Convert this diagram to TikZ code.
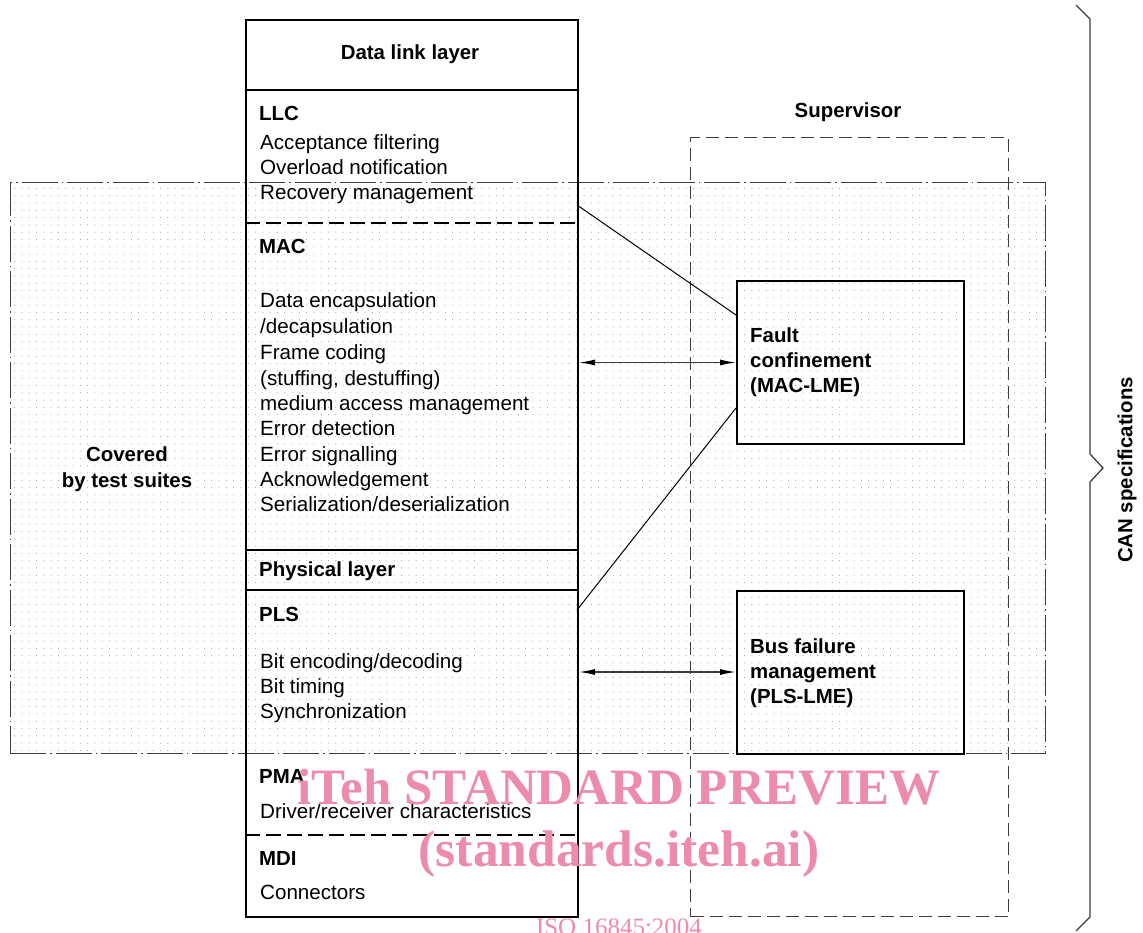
\documentclass[tikz,border=0pt]{standalone}
\usepackage{fontspec}
\setmainfont{Liberation Sans}
\newfontfamily\wmfont{Liberation Serif}
\usetikzlibrary{arrows.meta,patterns.meta}
\definecolor{wmpink}{RGB}{236,140,170}
\definecolor{linegray}{RGB}{60,60,60}
\begin{document}
\begin{tikzpicture}[x=1pt,y=-1pt,
  txt/.style={font=\fontsize{20.6}{24}\selectfont, anchor=base west, inner sep=0pt},
  btxt/.style={font=\fontsize{20.4}{24}\selectfont\bfseries, anchor=base west, inner sep=0pt},
  frame/.style={draw, line width=2pt, inner sep=0pt, anchor=north west},
  supbox/.style={draw=linegray, line width=1.3pt, dash pattern=on 13pt off 6pt, inner sep=0pt, anchor=north west},
  covbox/.style={draw=linegray, line width=0.9pt, dash pattern=on 36pt off 4pt on 1.5pt off 4pt, inner sep=0pt, anchor=north west,
     pattern={Dots[distance=7.3pt,radius=0.5pt]}, pattern color=gray!85},
  divider/.style={line width=2pt},
  ddivider/.style={line width=1.6pt, dash pattern=on 15pt off 6pt},
  conn/.style={line width=1pt},
  biarrow/.style={line width=1.3pt, draw=linegray, {Latex[length=16pt,width=6pt,color=black]}-{Latex[length=16pt,width=6pt,color=black]}},
  wm/.style={text=wmpink, inner sep=0pt, anchor=base}
]
\useasboundingbox (0,0) rectangle (1143,933);

% covered-by-test-suites region
\node[covbox, minimum width=1035pt, minimum height=571pt] (cov) at (10,182) {};

% supervisor region
\node[supbox, minimum width=318pt, minimum height=779pt] (sup) at (690,137) {};

% main column
\node[frame, minimum width=332pt, minimum height=897pt] (col) at (245,19) {};
\draw[divider] (245,90) -- (577,90);
\draw[ddivider] (245,223) -- (577,223);
\draw[divider] (245,550) -- (577,550);
\draw[divider] (245,590) -- (577,590);
\draw[ddivider] (245,835) -- (577,835);

% management boxes
\node[frame, minimum width=227pt, minimum height=163pt] (fault) at (736,280) {};
\node[frame, minimum width=227pt, minimum height=163pt] (bus) at (736,590) {};

% column texts
\node[btxt, anchor=base] (dll) at (410,60) {Data link layer};
\node[btxt] (llc) at (259,121) {LLC};
\node[txt] (t1) at (260,150) {Acceptance filtering};
\node[txt] (t2) at (260,175) {Overload notification};
\node[txt] (t3) at (260,200) {Recovery management};
\node[btxt] (mac) at (259,254) {MAC};
\node[txt] (t4) at (260,308) {Data encapsulation};
\node[txt] (t5) at (260,334) {/decapsulation};
\node[txt] (t6) at (260,359) {Frame coding};
\node[txt] (t7) at (260,385) {(stuffing, destuffing)};
\node[txt] (t8) at (260,410) {medium access management};
\node[txt] (t9) at (260,435) {Error detection};
\node[txt] (t10) at (260,461) {Error signalling};
\node[txt] (t11) at (260,486) {Acknowledgement};
\node[txt] (t12) at (260,511) {Serialization/deserialization};
\node[btxt] (phy) at (259,576) {Physical layer};
\node[btxt] (pls) at (259,621) {PLS};
\node[txt] (t13) at (260,668) {Bit encoding/decoding};
\node[txt] (t14) at (260,693) {Bit timing};
\node[txt] (t15) at (260,718) {Synchronization};
\node[btxt] (pma) at (259,783) {PMA};
\node[txt] (t16) at (260,818) {Driver/receiver characteristics};
\node[btxt] (mdi) at (259,865) {MDI};
\node[txt] (t17) at (260,899) {Connectors};

% other texts
\node[btxt, anchor=base] (cov1) at (127,461) {Covered};
\node[btxt, anchor=base] (cov2) at (127,487) {by test suites};
\node[btxt, anchor=base] (supl) at (848,118) {Supervisor};
\node[btxt] (f1) at (750,342) {Fault};
\node[btxt] (f2) at (750,367) {confinement};
\node[btxt] (f3) at (750,392) {(MAC-LME)};
\node[btxt] (b1) at (750,653) {Bus failure};
\node[btxt] (b2) at (750,678) {management};
\node[btxt] (b3) at (750,703) {(PLS-LME)};
\node[btxt, rotate=90, anchor=center] (can) at (1127,470) {CAN specifications};

% connectors
\coordinate (cA) at (577,205);
\coordinate (fA) at (736,315);
\coordinate (cB) at (577,610);
\coordinate (fB) at (736,408);
\draw[conn] (cA) -- (fA);
\draw[conn] (cB) -- (fB);
\draw[biarrow] (col.east |- fault.west) -- (fault.west);
\draw[biarrow] (col.east |- 0,672) -- (bus.west |- 0,672);

% brace
\draw[line width=1.3pt, draw=linegray, line join=miter] (1076,5) -- (1090,19) -- (1090,454) -- (1103,468) -- (1090,482) -- (1090,917) -- (1076,931);

% watermark
\node[wm, font=\wmfont\bfseries\fontsize{51}{55}\selectfont] (wm1) at (619,804) {iTeh STANDARD PREVIEW};
\node[wm, font=\wmfont\bfseries\fontsize{51.5}{55}\selectfont] (wm2) at (619,866) {(standards.iteh.ai)};
\node[wm, font=\wmfont\fontsize{25}{28}\selectfont] (wm3) at (619,935) {ISO 16845:2004};
\end{tikzpicture}
\end{document}
